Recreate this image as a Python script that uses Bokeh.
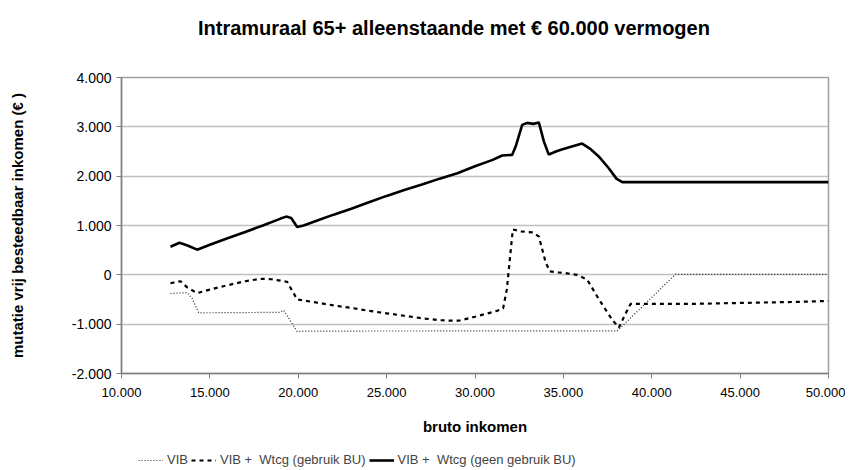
from bokeh.plotting import figure
from bokeh.layouts import column
from bokeh.models import FixedTicker, Legend, LegendItem, Range1d, Label
from bokeh.embed import file_html
from bokeh.resources import INLINE

# ---- data ----
x_ticks = [10000, 15000, 20000, 25000, 30000, 35000, 40000, 45000, 50000]
x_tick_labels = ["10.000", "15.000", "20.000", "25.000", "30.000", "35.000", "40.000", "45.000", "50.000"]
y_ticks = [-2000, -1000, 0, 1000, 2000, 3000, 4000]
y_tick_labels = ["-2.000", "-1.000", "0", "1.000", "2.000", "3.000", "4.000"]

vib_x = [12770, 13710, 14000, 14370, 19000, 19180, 19940, 20300, 37900, 38040, 38300, 41340, 50000]
vib_y = [-380, -360, -480, -770, -760, -720, -1150, -1140, -1135, -1140, -1050, 10, 10]

bu_x = [12770, 13340, 13700, 14280, 15000, 16000, 17000, 17860, 18500, 19370, 19700, 19940,
        21000, 22000, 23000, 24000, 25000, 26000, 27000, 28000, 28610, 29080, 30000, 31250,
        31590, 31800, 32140, 32600, 33230, 33610, 34000, 34230, 34700, 35210, 35780, 36350,
        37000, 37760, 38140, 38500, 38800, 39750, 42000, 45000, 48000, 50000]
bu_y = [-170, -130, -250, -370, -300, -210, -130, -80, -90, -140, -350, -500,
        -560, -620, -670, -730, -780, -830, -880, -920, -930, -930, -850, -730,
        -680, -300, 920, 880, 860, 780, 250, 70, 50, 30, 0, -100,
        -490, -910, -1070, -800, -590, -590, -590, -570, -550, -530]

geen_x = [12770, 13280, 13700, 14280, 15000, 16000, 17000, 18000, 19000, 19320, 19600, 19940,
          20300, 21000, 22000, 23000, 24000, 25000, 26000, 27000, 28000, 29000, 30000, 31000,
          31540, 32100, 32300, 32670, 32950, 33300, 33610, 33900, 34170, 34650, 35000, 36060,
          36500, 37000, 37570, 38000, 38330, 50000]
geen_y = [570, 650, 600, 510, 610, 740, 870, 1000, 1140, 1180, 1150, 970,
          1000, 1090, 1220, 1340, 1470, 1600, 1720, 1830, 1950, 2060, 2200, 2330,
          2420, 2430, 2600, 3040, 3080, 3060, 3090, 2700, 2440, 2510, 2550, 2660,
          2560, 2400, 2160, 1950, 1880, 1880]

labels = ["VIB", "VIB +  Wtcg (gebruik BU)", "VIB +  Wtcg (geen gebruik BU)"]
title_text = "Intramuraal 65+  alleenstaande met \u20ac  60.000 vermogen"
x_label = "bruto inkomen"
y_label = "mutatie vrij besteedbaar inkomen (\u20ac )"

FONT = "Liberation Sans"

VIB_STYLE = dict(line_color="#222222", line_width=1.2, line_dash="1 2")
BU_STYLE = dict(line_color="black", line_width=2.2, line_dash="4 4")
GEEN_STYLE = dict(line_color="black", line_width=2.6)

W = 845
BL, BR = 121, 17  # left / right borders so the frame sits where the reference has it


def strip(height):
    f = figure(width=W, height=height, x_range=Range1d(0, 1), y_range=Range1d(0, 1),
               output_backend="svg", toolbar_location=None, x_axis_type=None, y_axis_type=None,
               min_border_left=BL, min_border_right=BR, min_border_top=0, min_border_bottom=0)
    f.outline_line_color = None
    f.xgrid.grid_line_color = None
    f.ygrid.grid_line_color = None
    return f


# ---- title strip ----
tp = strip(40)
tp.add_layout(Label(x=338, y=13, x_units="screen", y_units="screen", text=title_text,
                    text_align="center", text_baseline="middle", text_font=FONT,
                    text_font_size="20px", text_font_style="bold", text_color="black"))

# ---- main chart ----
p = figure(width=W, height=412, x_range=Range1d(10000, 50000), y_range=Range1d(-2000, 4000),
           output_backend="svg", toolbar_location=None,
           min_border_left=BL, min_border_right=BR, min_border_top=37, min_border_bottom=79)

p.outline_line_color = "#a0a0a0"
p.outline_line_width = 1.5

p.xaxis.ticker = FixedTicker(ticks=x_ticks)
p.yaxis.ticker = FixedTicker(ticks=y_ticks)
p.xaxis.major_label_overrides = {t: l for t, l in zip(x_ticks, x_tick_labels)}
p.yaxis.major_label_overrides = {t: l for t, l in zip(y_ticks, y_tick_labels)}
for ax in (p.xaxis[0], p.yaxis[0]):
    ax.axis_line_color = "#808080"
    ax.axis_line_width = 1.5
    ax.major_tick_line_color = "#808080"
    ax.major_tick_out = 5
    ax.major_tick_in = 0
    ax.minor_tick_line_color = None
    ax.major_label_text_font = FONT
    ax.major_label_text_color = "black"
    ax.axis_label_text_font = FONT
    ax.axis_label_text_font_style = "bold"
    ax.axis_label_text_color = "black"
    ax.axis_label_text_font_size = "15px"
p.xaxis.major_label_text_font_size = "13px"
p.yaxis.major_label_text_font_size = "14px"
p.xaxis.major_label_standoff = 9
p.yaxis.major_label_standoff = 5
p.xaxis.axis_label = x_label
p.yaxis.axis_label = y_label
p.xaxis.axis_label_standoff = 18
p.yaxis.axis_label_standoff = 43

p.xgrid.grid_line_color = None
p.ygrid.grid_line_color = "#c0c0c0"
p.ygrid.grid_line_width = 1.5

p.line(vib_x, vib_y, **VIB_STYLE)
p.line(bu_x, bu_y, **BU_STYLE)
p.line(geen_x, geen_y, **GEEN_STYLE)

# ---- legend strip (same series, outside this strip's view) ----
lp = strip(16)
r1 = lp.line(vib_x, vib_y, **VIB_STYLE)
r2 = lp.line(bu_x, bu_y, **BU_STYLE)
r3 = lp.line(geen_x, geen_y, **GEEN_STYLE)

legend = Legend(items=[LegendItem(label=labels[0], renderers=[r1]),
                       LegendItem(label=labels[1], renderers=[r2]),
                       LegendItem(label=labels[2], renderers=[r3])],
                orientation="horizontal", location=(17, 1))
legend.border_line_alpha = 0
legend.background_fill_alpha = 0
legend.glyph_width = 25
legend.glyph_height = 14
legend.label_standoff = 4
legend.spacing = 3
legend.padding = 0
legend.margin = 0
legend.label_text_font = FONT
legend.label_text_font_size = "13px"
legend.label_height = 14
lp.add_layout(legend)

layout = column(tp, p, lp, spacing=0)
open("out.html", "w").write(file_html(layout, INLINE))
